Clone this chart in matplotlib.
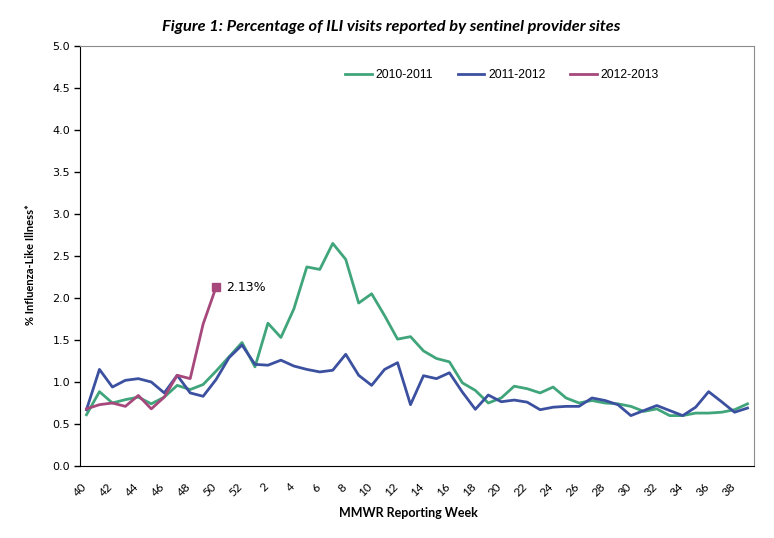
import numpy as np
import matplotlib
matplotlib.use("Agg")
import matplotlib.pyplot as plt
import matplotlib.transforms as mtransforms

weeks = list(range(40, 53)) + list(range(1, 40))

ili_2010 = [0.61, 0.885, 0.75, 0.79, 0.82, 0.74, 0.82, 0.96, 0.91, 0.97,
            1.13, 1.30, 1.47, 1.18, 1.70, 1.53, 1.87, 2.37, 2.34, 2.65,
            2.46, 1.94, 2.05, 1.79, 1.51, 1.54, 1.37, 1.28, 1.24, 0.99,
            0.90, 0.75, 0.81, 0.95, 0.92, 0.87, 0.94, 0.81, 0.75, 0.78,
            0.75, 0.74, 0.71, 0.65, 0.68, 0.60, 0.60, 0.63, 0.63, 0.64,
            0.67, 0.74]
ili_2011 = [0.67, 1.15, 0.94, 1.02, 1.04, 1.00, 0.87, 1.08, 0.87, 0.83,
            1.03, 1.29, 1.44, 1.21, 1.20, 1.26, 1.19, 1.15, 1.12, 1.14,
            1.33, 1.08, 0.96, 1.15, 1.23, 0.73, 1.075, 1.04, 1.11, 0.88,
            0.675, 0.845, 0.765, 0.785, 0.76, 0.67, 0.70, 0.71, 0.71, 0.81,
            0.78, 0.73, 0.60, 0.66, 0.72, 0.66, 0.60, 0.70, 0.885, 0.765,
            0.64, 0.69]
ili_2012 = [0.68, 0.73, 0.75, 0.71, 0.84, 0.68, 0.82, 1.08, 1.04, 1.69, 2.13]

c_green = "#41a57b"
c_blue = "#3c50a0"
c_pink = "#a6487b"

fig = plt.figure(figsize=(7.74, 5.38), dpi=100)
ax = fig.add_axes([80 / 774, 1 - 466 / 538, 674 / 774, 420 / 538])

x = np.arange(len(weeks))
ax.plot(x, ili_2010, color=c_green, lw=2.0, label="2010-2011")
ax.plot(x, ili_2011, color=c_blue, lw=2.0, label="2011-2012")
x12 = np.arange(len(ili_2012))
ax.plot(x12, ili_2012, color=c_pink, lw=2.0, label="2012-2013")
ax.plot(x12[-1], ili_2012[-1], marker="s", ms=6, color=c_pink, ls="none")
ax.annotate("%.2f%%" % ili_2012[-1], (x12[-1], ili_2012[-1]),
            xytext=(7, 0), textcoords="offset points", va="center",
            fontsize=9)

ax.set_xlim(-0.5, len(weeks) - 0.5)
ax.set_ylim(0, 5)
ax.set_yticks(np.arange(0, 5.01, 0.5))
ax.set_yticklabels(["%.1f" % v for v in np.arange(0, 5.01, 0.5)], fontsize=8)
ax.set_xticks(x[::2])
ax.set_xticklabels([str(w) for w in weeks[::2]], rotation=45, ha="right",
                   rotation_mode="anchor", fontsize=8.5, family=["Lato", "DejaVu Sans"])
ax.tick_params(axis="x", length=0, pad=11)
ax.tick_params(axis="y", length=4, width=1, pad=3)

# shift the rotated week labels a bit left, like the original
shift = mtransforms.ScaledTranslation(-5 / 100, 0, fig.dpi_scale_trans)
for lbl in ax.get_xticklabels():
    lbl.set_transform(lbl.get_transform() + shift)

for s in ["top", "right"]:
    ax.spines[s].set_color("#8c8c8c")
for s in ["left", "bottom"]:
    ax.spines[s].set_color("black")

ax.legend(loc="center left", bbox_to_anchor=(265 / 674, 4.655 / 5), ncol=3, frameon=False,
          prop={"family": ["Liberation Sans", "DejaVu Sans"], "size": 8.8},
          handlelength=2.2, handletextpad=0.3, columnspacing=2.0,
          borderpad=0, borderaxespad=0)

fig.text(391 / 774, 1 - 27 / 538, "Figure 1: Percentage of ILI visits reported by sentinel provider sites",
         ha="center", va="center", fontsize=11.8, fontweight="bold", style="italic",
         family=["Lato", "DejaVu Sans"])
fig.text(408 / 774, 1 - 513 / 538, "MMWR Reporting Week", ha="center", va="center",
         fontsize=9, fontweight="bold", family=["Lato", "DejaVu Sans"])
fig.text(30 / 774, 1 - 265 / 538, "% Influenza-Like Illness*", ha="center", va="center",
         rotation=90, fontsize=8, fontweight="bold", family=["Lato", "DejaVu Sans"])

fig.savefig("out.png", dpi=100)
